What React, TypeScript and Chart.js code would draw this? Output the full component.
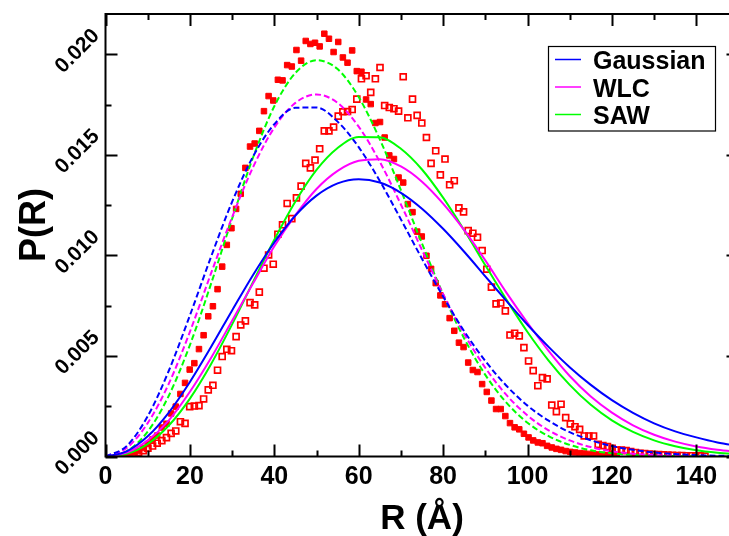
import { useEffect, useRef } from "react";
import { Chart, registerables } from "chart.js";

Chart.register(...registerables);

const FONT = '"Liberation Sans", Arial, Helvetica, sans-serif';

// ---- model curves: R grid (Å) and P(R) values ----
const curveR = [0, 5, 10, 15, 20, 25, 30, 35, 40, 45, 50, 55, 60, 65, 70, 75, 80, 85, 90, 95, 100, 105, 110, 115, 120, 125, 130, 135, 140, 145, 150];

const gaussSolid = [0, 0.000257, 0.001006, 0.002187, 0.003705, 0.00544, 0.00726, 0.00904, 0.01064, 0.01198, 0.01297, 0.01358, 0.01379, 0.01362, 0.01311, 0.01232, 0.01132, 0.01018, 0.00896, 0.00774, 0.00655, 0.00545, 0.00444, 0.00356, 0.0028, 0.00217, 0.00165, 0.00125, 0.00095, 0.0007, 0.00052];
const wlcSolid = [0, 0.00019, 0.0008, 0.0018, 0.00322, 0.0049, 0.00675, 0.00862, 0.01045, 0.012, 0.0133, 0.0142, 0.0147, 0.01478, 0.01442, 0.01366, 0.01257, 0.01125, 0.00975, 0.00815, 0.00665, 0.00525, 0.004, 0.00298, 0.00218, 0.00155, 0.00108, 0.00074, 0.0005, 0.00034, 0.00023];
const sawSolid = [0, 0.000129, 0.000622, 0.00154, 0.00288, 0.00459, 0.00657, 0.00869, 0.01078, 0.01268, 0.01425, 0.01534, 0.01589, 0.01587, 0.0153, 0.01427, 0.01287, 0.01125, 0.00951, 0.0078, 0.00619, 0.00477, 0.00356, 0.00257, 0.0018, 0.00122, 0.0008, 0.00051, 0.00031, 0.00019, 0.00011];

const gaussDashed = [0, 0.000517, 0.002002, 0.004263, 0.007015, 0.009925, 0.01266, 0.01493, 0.01652, 0.01734, 0.01735, 0.01665, 0.01538, 0.0137, 0.01179, 0.00983, 0.00795, 0.00623, 0.00475, 0.00352, 0.00253, 0.00178, 0.00121, 0.00081, 0.00052, 0.00033, 0.0002, 0.00012, 0.00007, 0.00004, 0.00002];
const wlcDashed = [0, 0.00042, 0.00166, 0.00362, 0.0062, 0.0091, 0.0119, 0.0144, 0.01635, 0.01758, 0.018, 0.01758, 0.0164, 0.01465, 0.01253, 0.01027, 0.00808, 0.00609, 0.00441, 0.00306, 0.00204, 0.0013, 0.0008, 0.00047, 0.00026, 0.00014, 0.00007, 0.00004, 0.00002, 0.00001, 0];
const sawDashed = [0, 0.000259, 0.001237, 0.003022, 0.005542, 0.008581, 0.01182, 0.01489, 0.01741, 0.01907, 0.0197, 0.01926, 0.01787, 0.01577, 0.01324, 0.01059, 0.00807, 0.00587, 0.00406, 0.00268, 0.00168, 0.00101, 0.00058, 0.00031, 0.00016, 0.00008, 0.00004, 0.00002, 0.00001, 0, 0];

// ---- measured histograms (shared R sampling) ----
const sampleR = [
  3.45, 4.55, 5.65, 6.75, 7.85, 8.95, 10.05, 11.15, 12.25, 13.35,
  14.45, 15.55, 16.65, 17.75, 18.85, 19.95, 21.05, 22.15, 23.25, 24.35,
  25.45, 26.55, 27.65, 28.75, 29.85, 30.95, 32.05, 33.15, 34.25, 35.35,
  36.45, 37.55, 38.65, 39.75, 40.85, 41.95, 43.05, 44.15, 45.25, 46.35,
  47.45, 48.55, 49.65, 50.75, 51.85, 52.95, 54.05, 55.15, 56.25, 57.35,
  58.45, 59.55, 60.65, 61.75, 62.85, 63.95, 65.05, 66.15, 67.25, 68.35,
  69.45, 70.55, 71.65, 72.75, 73.85, 74.95, 76.05, 77.15, 78.25, 79.35,
  80.45, 81.55, 82.65, 83.75, 84.85, 85.95, 87.05, 88.15, 89.25, 90.35,
  91.45, 92.55, 93.65, 94.75, 95.85, 96.95, 98.05, 99.15, 100.25, 101.35,
  102.45, 103.55, 104.65, 105.75, 106.85, 107.95, 109.05, 110.15, 111.25, 112.35,
  113.45, 114.55, 115.65, 116.75, 117.85, 118.95, 120.05, 121.15, 122.25, 123.35,
  124.45, 125.55, 126.65, 127.75, 128.85, 129.95, 131.05, 132.15, 133.25, 134.35,
  135.45, 136.55, 137.65, 138.75, 139.85, 140.95, 142.05,
];

const filledP = [
  0.00002, 0.00005, 0.0001, 0.00017, 0.00027, 0.00042, 0.00062, 0.00085, 0.00104, 0.00144,
  0.00163, 0.00214, 0.00248, 0.00311, 0.00366, 0.00432, 0.00464, 0.00534, 0.00603, 0.00697,
  0.00747, 0.00832, 0.00944, 0.01052, 0.01135, 0.01231, 0.01306, 0.01435, 0.01541, 0.01556,
  0.01619, 0.01717, 0.01792, 0.0177, 0.01873, 0.0187, 0.01946, 0.01939, 0.02021, 0.01968,
  0.02066, 0.02051, 0.02057, 0.02039, 0.02102, 0.02077, 0.02011, 0.02061, 0.01984, 0.01958,
  0.02019, 0.01916, 0.01913, 0.01775, 0.01752, 0.01658, 0.01663, 0.01586, 0.01497, 0.01479,
  0.01387, 0.01362, 0.01255, 0.01215, 0.01118, 0.01094, 0.00998, 0.00933, 0.00862, 0.00801,
  0.00757, 0.00688, 0.00625, 0.00566, 0.00544, 0.00467, 0.0043, 0.0042, 0.0036, 0.00321,
  0.00278, 0.00236, 0.00236, 0.00201, 0.00166, 0.00145, 0.00135, 0.00113, 0.00095, 0.0008,
  0.0007, 0.00066, 0.00053, 0.00045, 0.00038, 0.00033, 0.00027, 0.00023, 0.0002, 0.00017,
  0.00015, 0.00013, 0.00011, 0.0001, 0.00008, 0.00007, 0.00006, 0.00005, null, null,
  null, null, null, null, null, null, null, null, null, null,
  null, null, null, null, null, null, null,
];

const openP = [
  null, 0.00001, 0.00001, 0.00008, 0.00019, 0.00029, 0.00041, 0.00052, 0.00066, 0.00079,
  0.00094, 0.00115, 0.00127, 0.00173, 0.00165, 0.00248, 0.00251, 0.00253, 0.00286, 0.00331,
  0.00354, 0.00429, 0.00497, 0.00533, 0.00526, 0.00596, 0.00654, 0.00674, 0.00765, 0.00754,
  0.00817, 0.00936, 0.01002, 0.00956, 0.01105, 0.01152, 0.01258, 0.01183, 0.01286, 0.01344,
  0.01457, 0.01435, 0.01474, 0.0153, 0.01619, 0.01619, 0.01638, 0.01692, 0.01714, 0.01715,
  0.01725, 0.01777, 0.01878, 0.01893, 0.0181, 0.01878, 0.01934, 0.01745, 0.01735, 0.01729,
  0.01717, 0.01888, 0.01684, 0.01777, 0.01696, 0.01658, 0.01586, 0.01457, 0.0152, 0.014,
  0.01479, 0.01351, 0.01371, 0.01236, 0.01216, 0.01123, 0.0111, 0.0109, 0.01024, 0.00931,
  0.00842, 0.00759, 0.00763, 0.00724, 0.00604, 0.00613, 0.006, 0.00541, 0.00475, 0.00427,
  0.00352, 0.00392, 0.00386, 0.00256, 0.00223, 0.0026, 0.00193, 0.00162, 0.00148, 0.00135,
  0.00102, 0.00102, 0.00102, 0.0006, 0.00054, 0.00049, 0.00041, 0.00032, 0.00032, 0.00029,
  0.00024, 0.0002, 0.00016, 0.00014, 0.00012, 0.0001, 0.0001, 0.00008, 0.00007, 0.00006,
  0.00005, 0.00005, 0.00004, 0.00004, 0.00003, 0.00003, 0.00002,
];

// ---- axes / text ----
const xMin = 0;
const xMax = 150;
const yMin = 0;
const yMax = 0.022;
const xTickValues = [0, 10, 20, 30, 40, 50, 60, 70, 80, 90, 100, 110, 120, 130, 140, 150];
const xLabelValues = [0, 20, 40, 60, 80, 100, 120, 140];
const xLabels = ["0", "20", "40", "60", "80", "100", "120", "140"];
const yTickValues = [0, 0.0025, 0.005, 0.0075, 0.01, 0.0125, 0.015, 0.0175, 0.02];
const yLabelValues = [0, 0.005, 0.01, 0.015, 0.02];
const yLabels = ["0.000", "0.005", "0.010", "0.015", "0.020"];
const xTitle = "R (Å)";
const yTitle = "P(R)";
const legendLabels = ["Gaussian", "WLC", "SAW"];
const legendColors = ["#0000ff", "#ff00ff", "#00ff00"];

const BLUE = "#0000ff";
const MAGENTA = "#ff00ff";
const GREEN = "#00ff00";
const RED = "#ff0000";

function pts(xs: number[], ys: (number | null)[]) {
  const out: { x: number; y: number }[] = [];
  xs.forEach((x, i) => {
    const y = ys[i];
    if (y !== null && y !== undefined) out.push({ x, y });
  });
  return out;
}

const decorPlugin = {
  id: "decor",
  afterDraw(chart: any) {
    const { ctx, chartArea: a, scales } = chart;
    const xs = scales.x;
    const ys = scales.y;
    ctx.save();
    ctx.strokeStyle = "#000";
    ctx.fillStyle = "#000";
    ctx.lineWidth = 2;
    ctx.lineCap = "butt";
    // frame
    ctx.strokeRect(a.left, a.top, a.right - a.left, a.bottom - a.top);
    // ticks (inward, on all four sides)
    ctx.beginPath();
    xTickValues.forEach((v) => {
      const px = Math.round(xs.getPixelForValue(v)) + 0.5;
      const len = v % 20 === 0 ? 12 : 6;
      ctx.moveTo(px, a.bottom);
      ctx.lineTo(px, a.bottom - len);
      ctx.moveTo(px, a.top);
      ctx.lineTo(px, a.top + len);
    });
    yTickValues.forEach((v) => {
      const py = Math.round(ys.getPixelForValue(v)) + 0.5;
      const major = yLabelValues.some((m) => Math.abs(m - v) < 1e-9);
      const len = major ? 12 : 6;
      ctx.moveTo(a.left, py);
      ctx.lineTo(a.left + len, py);
      ctx.moveTo(a.right, py);
      ctx.lineTo(a.right - len, py);
    });
    ctx.stroke();

    // x tick labels
    ctx.font = `bold 25px ${FONT}`;
    ctx.textAlign = "center";
    ctx.textBaseline = "alphabetic";
    xLabelValues.forEach((v, i) => {
      ctx.fillText(xLabels[i], xs.getPixelForValue(v), a.bottom + 27);
    });

    // y tick labels, rotated 45°
    ctx.font = `bold 21px ${FONT}`;
    yLabelValues.forEach((v, i) => {
      const py = ys.getPixelForValue(v);
      ctx.save();
      ctx.translate(a.left - 28, py - 3);
      ctx.rotate(-Math.PI / 4);
      ctx.textAlign = "center";
      ctx.textBaseline = "middle";
      ctx.fillText(yLabels[i], 0, 0);
      ctx.restore();
    });

    // axis titles
    ctx.font = `bold 35px ${FONT}`;
    ctx.textAlign = "center";
    ctx.textBaseline = "alphabetic";
    ctx.fillText(xTitle, (a.left + a.right) / 2, a.bottom + 72);
    ctx.save();
    ctx.font = `bold 36px ${FONT}`;
    ctx.translate(45, 225);
    ctx.rotate(-Math.PI / 2);
    ctx.fillText(yTitle, 0, 0);
    ctx.restore();

    // legend box
    const bx = 548.5;
    const by = 46.5;
    const bw = 167;
    const bh = 84.5;
    ctx.lineWidth = 1.2;
    ctx.strokeStyle = "#000";
    ctx.strokeRect(bx, by, bw, bh);
    ctx.font = `bold 25px ${FONT}`;
    ctx.textAlign = "left";
    ctx.textBaseline = "alphabetic";
    legendLabels.forEach((lab, i) => {
      const cy = 59.5 + i * 27.5;
      ctx.strokeStyle = legendColors[i];
      ctx.lineWidth = 1.5;
      ctx.beginPath();
      ctx.moveTo(555, cy);
      ctx.lineTo(581, cy);
      ctx.stroke();
      ctx.fillStyle = "#000";
      ctx.fillText(lab, 593, cy + 9.5);
    });
    ctx.restore();
  },
};

function lineSet(label: string, ys: number[], color: string, dashed: boolean) {
  return {
    type: "line" as const,
    label,
    data: pts(curveR, ys),
    borderColor: color,
    backgroundColor: color,
    borderWidth: 2,
    borderDash: dashed ? [6, 3] : [],
    pointRadius: 0,
    fill: false,
    cubicInterpolationMode: "monotone" as const,
    showLine: true,
  };
}

export default function App() {
  const ref = useRef<HTMLCanvasElement | null>(null);

  useEffect(() => {
    if (!ref.current) return;
    const chart = new Chart(ref.current, {
      type: "scatter",
      data: {
        datasets: [
          lineSet("Gaussian", gaussSolid, BLUE, false),
          lineSet("WLC", wlcSolid, MAGENTA, false),
          lineSet("SAW", sawSolid, GREEN, false),
          lineSet("Gaussian (dashed)", gaussDashed, BLUE, true),
          lineSet("WLC (dashed)", wlcDashed, MAGENTA, true),
          lineSet("SAW (dashed)", sawDashed, GREEN, true),
          {
            type: "scatter" as const,
            label: "filled",
            data: pts(sampleR, filledP),
            pointStyle: "rect",
            pointRadius: 3.9,
            backgroundColor: RED,
            borderColor: RED,
            borderWidth: 1,
          },
          {
            type: "scatter" as const,
            label: "open",
            data: pts(sampleR, openP),
            pointStyle: "rect",
            pointRadius: 4.2,
            backgroundColor: "rgba(255,255,255,0)",
            borderColor: RED,
            borderWidth: 1.7,
          },
        ] as any,
      },
      options: {
        animation: false,
        responsive: false,
        devicePixelRatio: 1,
        layout: { padding: { left: 105.5, right: 6.5, top: 14, bottom: 79.5 } },
        scales: {
          x: { type: "linear", min: xMin, max: xMax, display: false },
          y: { type: "linear", min: yMin, max: yMax, display: false },
        },
        plugins: {
          legend: { display: false },
          tooltip: { enabled: false },
        },
      },
      plugins: [decorPlugin],
    });
    return () => chart.destroy();
  }, []);

  return (
    <div style={{ position: "absolute", left: 0, top: 0, width: 729, height: 536, overflow: "hidden", background: "#fff" }}>
      <canvas ref={ref} width={745} height={536} style={{ display: "block", width: 745, height: 536 }} />
    </div>
  );
}
